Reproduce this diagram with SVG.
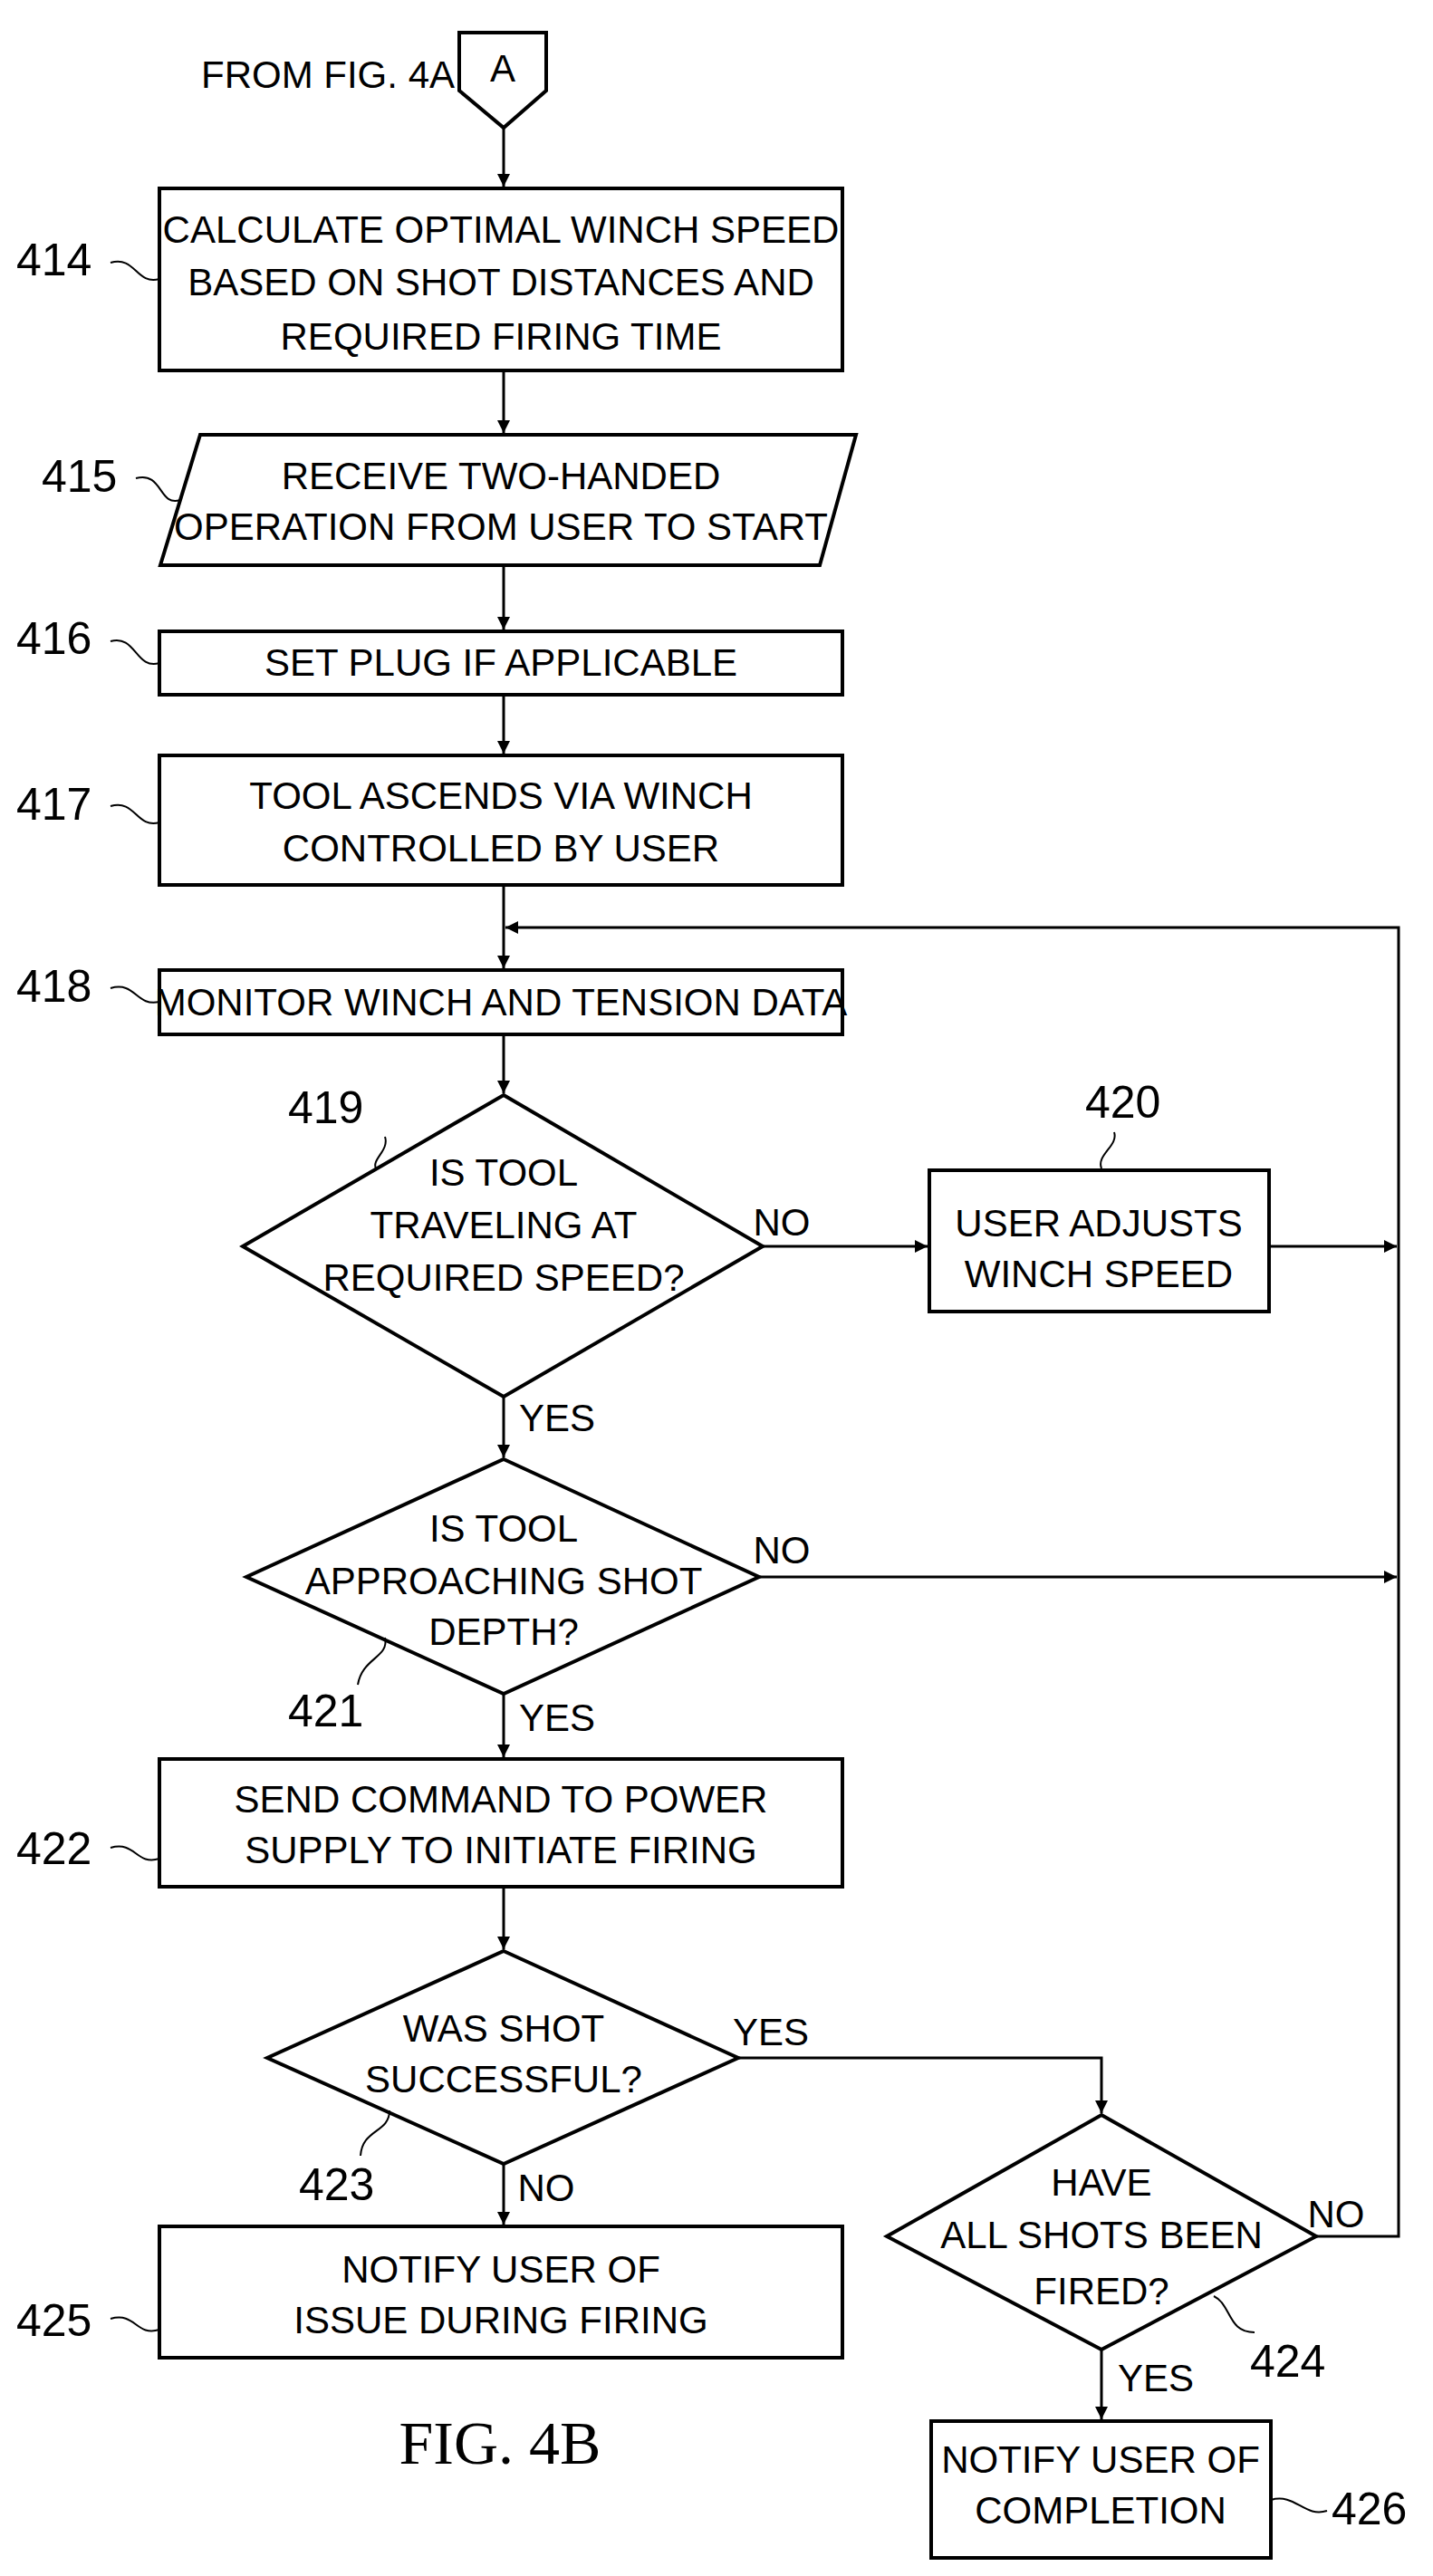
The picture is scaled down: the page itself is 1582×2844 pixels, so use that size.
<svg xmlns="http://www.w3.org/2000/svg" width="1582" height="2844" viewBox="0 0 1582 2844">
<style>
.s{fill:#fff;stroke:#000;stroke-width:4}
.t{font-family:"Liberation Sans Narrow","Liberation Sans",sans-serif;font-size:42px;text-anchor:middle;fill:#000}
.l{font-family:"Liberation Sans Narrow","Liberation Sans",sans-serif;font-size:50px;fill:#000}
.c{fill:none;stroke:#000;stroke-width:3}
.q{fill:none;stroke:#000;stroke-width:2}
</style>
<defs><marker id="a" viewBox="0 0 10 10" refX="10" refY="5" markerWidth="10" markerHeight="10" markerUnits="userSpaceOnUse" orient="auto"><path d="M0,0 L10,5 L0,10 z"/></marker>
<marker id="ah" viewBox="0 0 10 10" refX="10" refY="5" markerWidth="30" markerHeight="14" markerUnits="userSpaceOnUse" orient="auto"><path d="M0,0 L10,5 L0,10 z"/></marker></defs>
<g id="connectors">
<path class="c" d="M556,141 V206" marker-end="url(#ah)"/>
<path class="c" d="M556,409 V478" marker-end="url(#ah)"/>
<path class="c" d="M556,624 V695" marker-end="url(#ah)"/>
<path class="c" d="M556,767 V832" marker-end="url(#ah)"/>
<path class="c" d="M556,977 V1069" marker-end="url(#ah)"/>
<path class="c" d="M556,1142 V1207" marker-end="url(#ah)"/>
<path class="c" d="M842,1376 H1024" marker-end="url(#ah)"/>
<path class="c" d="M1401,1376 H1542" marker-end="url(#ah)"/>
<path class="c" d="M556,1542 V1609" marker-end="url(#ah)"/>
<path class="c" d="M838,1741 H1542" marker-end="url(#ah)"/>
<path class="c" d="M556,1870 V1940" marker-end="url(#ah)"/>
<path class="c" d="M556,2083 V2152" marker-end="url(#ah)"/>
<path class="c" d="M815,2272 H1216 V2333" marker-end="url(#ah)"/>
<path class="c" d="M556,2389 V2456" marker-end="url(#ah)"/>
<path class="c" d="M1216,2594 V2671" marker-end="url(#ah)"/>
<path class="c" d="M1453,2469 H1544 V1024 H558" marker-end="url(#ah)"/>
<text class="t" x="863" y="1364" style="text-anchor:middle">NO</text>
<text class="t" x="615" y="1580">YES</text>
<text class="t" x="863" y="1726">NO</text>
<text class="t" x="615" y="1911">YES</text>
<text class="t" x="851" y="2258">YES</text>
<text class="t" x="603" y="2430">NO</text>
<text class="t" x="1475" y="2459">NO</text>
<text class="t" x="1276" y="2640">YES</text>
</g>
<g id="A"><text class="t" x="362" y="97">FROM FIG. 4A</text><path class="s" d="M507,36 H603 V100 L556,141 L507,100 Z"/><text class="t" x="555" y="90">A</text></g>
<g id="n414"><rect class="s" x="176" y="208" width="754" height="201"/><text class="t" x="553" y="268">CALCULATE OPTIMAL WINCH SPEED</text><text class="t" x="553" y="326">BASED ON SHOT DISTANCES AND</text><text class="t" x="553" y="386">REQUIRED FIRING TIME</text><text class="l" x="18" y="304">414</text><path class="q" d="M122,290 C150,282 150,315 176,308"/></g>
<g id="n415"><path class="s" d="M221,480 H945 L905,624 H177 Z"/><text class="t" x="553" y="540">RECEIVE TWO-HANDED</text><text class="t" x="553" y="596">OPERATION FROM USER TO START</text><text class="l" x="46" y="543">415</text><path class="q" d="M150,528 C180,520 175,560 199,552"/></g>
<g id="n416"><rect class="s" x="176" y="697" width="754" height="70"/><text class="t" x="553" y="746">SET PLUG IF APPLICABLE</text><text class="l" x="18" y="722">416</text><path class="q" d="M122,708 C150,700 150,740 176,732"/></g>
<g id="n417"><rect class="s" x="176" y="834" width="754" height="143"/><text class="t" x="553" y="893">TOOL ASCENDS VIA WINCH</text><text class="t" x="553" y="951">CONTROLLED BY USER</text><text class="l" x="18" y="905">417</text><path class="q" d="M122,890 C150,882 150,915 176,908"/></g>
<g id="n418"><rect class="s" x="176" y="1071" width="754" height="71"/><text class="t" x="553" y="1121">MONITOR WINCH AND TENSION DATA</text><text class="l" x="18" y="1106">418</text><path class="q" d="M122,1091 C150,1083 150,1112 176,1106"/></g>
<g id="n419"><path class="s" d="M556,1209 L842,1376 L556,1542 L268,1376 Z"/><text class="t" x="556" y="1309">IS TOOL</text><text class="t" x="556" y="1367">TRAVELING AT</text><text class="t" x="556" y="1425">REQUIRED SPEED?</text><text class="l" x="318" y="1240">419</text><path class="q" d="M425,1255 C430,1270 410,1280 415,1290"/></g>
<g id="n420"><rect class="s" x="1026" y="1292" width="375" height="156"/><text class="t" x="1213" y="1365">USER ADJUSTS</text><text class="t" x="1213" y="1421">WINCH SPEED</text><text class="l" x="1198" y="1234">420</text><path class="q" d="M1230,1250 C1235,1265 1210,1275 1216,1290"/></g>
<g id="n421"><path class="s" d="M556,1611 L838,1741 L556,1870 L272,1741 Z"/><text class="t" x="556" y="1702">IS TOOL</text><text class="t" x="556" y="1760">APPROACHING SHOT</text><text class="t" x="556" y="1816">DEPTH?</text><text class="l" x="318" y="1906">421</text><path class="q" d="M425,1808 C430,1830 400,1830 395,1860"/></g>
<g id="n422"><rect class="s" x="176" y="1942" width="754" height="141"/><text class="t" x="553" y="2001">SEND COMMAND TO POWER</text><text class="t" x="553" y="2057">SUPPLY TO INITIATE FIRING</text><text class="l" x="18" y="2058">422</text><path class="q" d="M122,2040 C150,2032 150,2060 176,2052"/></g>
<g id="n423"><path class="s" d="M556,2154 L815,2272 L556,2389 L295,2272 Z"/><text class="t" x="556" y="2254">WAS SHOT</text><text class="t" x="556" y="2310">SUCCESSFUL?</text><text class="l" x="330" y="2429">423</text><path class="q" d="M430,2330 C430,2355 400,2350 398,2380"/></g>
<g id="n424"><path class="s" d="M1216,2335 L1453,2469 L1216,2594 L979,2469 Z"/><text class="t" x="1216" y="2424">HAVE</text><text class="t" x="1216" y="2482">ALL SHOTS BEEN</text><text class="t" x="1216" y="2544">FIRED?</text><text class="l" x="1380" y="2624">424</text><path class="q" d="M1340,2535 C1360,2545 1355,2575 1385,2575"/></g>
<g id="n425"><rect class="s" x="176" y="2458" width="754" height="145"/><text class="t" x="553" y="2520">NOTIFY USER OF</text><text class="t" x="553" y="2576">ISSUE DURING FIRING</text><text class="l" x="18" y="2579">425</text><path class="q" d="M122,2560 C150,2552 150,2580 176,2572"/></g>
<g id="n426"><rect class="s" x="1028" y="2673" width="375" height="151"/><text class="t" x="1215" y="2730">NOTIFY USER OF</text><text class="t" x="1215" y="2786">COMPLETION</text><text class="l" x="1470" y="2787">426</text><path class="q" d="M1403,2760 C1430,2752 1440,2780 1465,2772"/></g>
<text x="552" y="2720" style="font-family:'Liberation Serif',serif;font-size:68px;text-anchor:middle">FIG. 4B</text>
</svg>
